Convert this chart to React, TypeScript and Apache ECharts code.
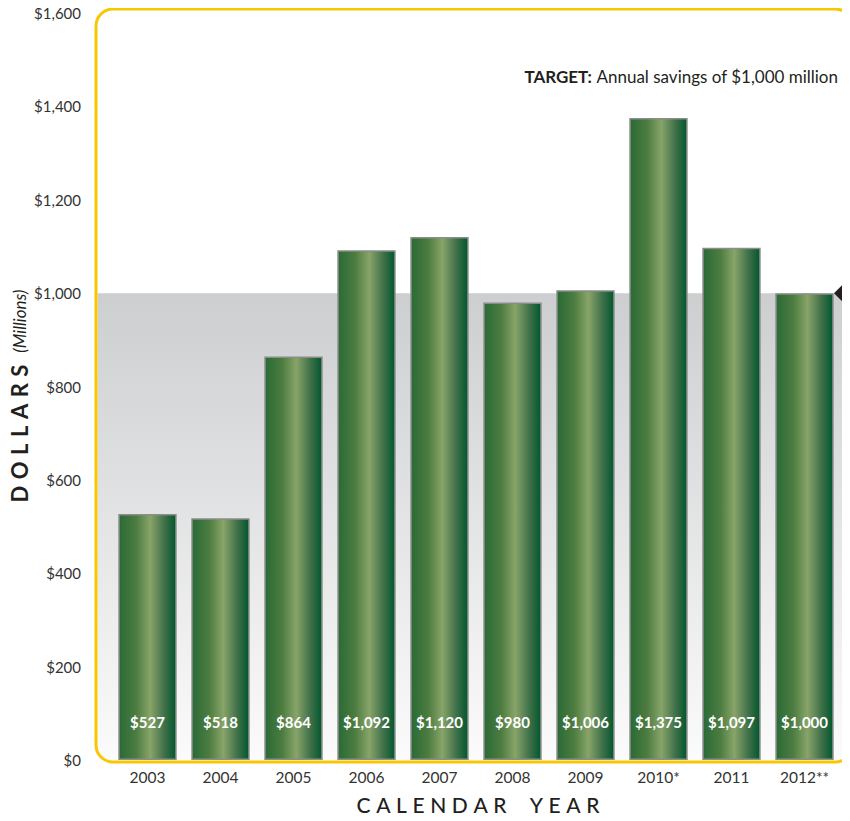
import React, { useEffect, useRef } from "react";
import * as echarts from "echarts";

const years = ["2003", "2004", "2005", "2006", "2007", "2008", "2009", "2010*", "2011", "2012**"];
const savings = [527, 518, 864, 1092, 1120, 980, 1006, 1375, 1097, 1000];
const targetValue = 1000;
const yTicks = [0, 200, 400, 600, 800, 1000, 1200, 1400, 1600];

const FONT = "Lato, 'Open Sans', sans-serif";
const INK = "#231f20";

const money = (v: number) => "$" + v.toLocaleString("en-US");

// Measure a string with the canvas API so letter-spaced titles can be laid out glyph by glyph.
function measure(text: string, font: string): number {
  const ctx = document.createElement("canvas").getContext("2d");
  if (!ctx) return text.length * 10;
  ctx.font = font;
  return ctx.measureText(text).width;
}

// A run of letter-spaced text, centred on x = 0, as text elements for a graphic group.
function trackedText(
  text: string,
  size: number,
  weight: string | number,
  tracking: number,
  wordGap: number
) {
  const font = `${weight} ${size}px Lato`;
  const chars = Array.from(text);
  const widths = chars.map((c) => (c === " " ? wordGap : measure(c, font)));
  const total = widths.reduce((a, b) => a + b, 0) + tracking * (chars.length - 1);
  let x = -total / 2;
  const out: any[] = [];
  chars.forEach((c, i) => {
    if (c !== " ") {
      out.push({
        type: "text",
        x,
        y: 0,
        style: {
          text: c,
          fill: INK,
          fontSize: size,
          fontWeight: weight,
          fontFamily: FONT,
          verticalAlign: "middle",
          align: "left",
        },
      });
    }
    x += widths[i] + tracking;
  });
  return { elements: out, width: total };
}

export default function App() {
  const ref = useRef<HTMLDivElement>(null);

  useEffect(() => {
    if (!ref.current) return;
    const chart = echarts.init(ref.current, null, { renderer: "svg" });

    const barGradient = new echarts.graphic.LinearGradient(0, 0, 1, 0, [
      { offset: 0, color: "#2a6a36" },
      { offset: 0.3, color: "#4c7c40" },
      { offset: 0.55, color: "#88a469" },
      { offset: 0.8, color: "#3f7049" },
      { offset: 1, color: "#00572d" },
    ]);

    chart.setOption({
      animation: false,
      grid: { left: 111, right: 9, top: 13, bottom: 61, containLabel: false },
      xAxis: {
        type: "category",
        data: years,
        axisLine: { show: false },
        axisTick: { show: false },
        axisLabel: { color: "#333", fontSize: 15.5, fontFamily: FONT, margin: 9 },
      },
      yAxis: {
        type: "value",
        min: yTicks[0],
        max: yTicks[yTicks.length - 1],
        interval: 200,
        splitLine: { show: false },
        axisLine: { show: false },
        axisTick: { show: false },
        axisLabel: {
          color: "#333",
          fontSize: 15,
          fontFamily: FONT,
          margin: 30,
          formatter: (v: number) => money(v),
        },
      },
      series: [
        {
          type: "bar",
          data: savings,
          barWidth: "80%",
          z: 5,
          itemStyle: { color: barGradient, borderColor: "#8a8d8a", borderWidth: 1.5 },
          label: {
            show: true,
            position: "insideBottom",
            distance: 31,
            color: "#fff",
            fontWeight: "bold",
            fontSize: 15,
            fontFamily: FONT,
            formatter: (p: any) => money(p.value),
          },
        },
      ],
    });

    const yTarget = chart.convertToPixel({ yAxisIndex: 0 }, targetValue) as number;
    const frame = { x: 96, y: 9, w: 756, h: 753 };

    const xTitle = trackedText("CALENDAR YEAR", 21, 500, 5.6, 12);
    const yTitle = trackedText("DOLLARS", 22, "bold", 6.5, 0);
    const millions = "(Millions)";
    const millionsWidth = measure(millions, "italic 17px Lato");
    const yGap = 12;
    const yTotal = yTitle.width + yGap + millionsWidth;

    chart.setOption({
      graphic: [
        {
          type: "rect",
          z: 0,
          silent: true,
          shape: { x: frame.x + 1.5, y: yTarget, width: frame.w, height: frame.y + frame.h - yTarget - 2 },
          style: {
            fill: new echarts.graphic.LinearGradient(0, 0, 0, 1, [
              { offset: 0, color: "#cdced0" },
              { offset: 1, color: "#fbfbfb" },
            ]),
          },
        },
        {
          type: "rect",
          z: 10,
          silent: true,
          shape: { x: frame.x, y: frame.y, width: frame.w, height: frame.h, r: 17 },
          style: { fill: "none", stroke: "#f9c700", lineWidth: 3 },
        },
        {
          type: "polygon",
          z: 10,
          silent: true,
          shape: {
            points: [
              [834, yTarget],
              [856, yTarget - 22],
              [856, yTarget + 22],
            ],
          },
          style: { fill: INK },
        },
        {
          type: "text",
          z: 10,
          x: 838,
          y: 76,
          style: {
            text: "{b|TARGET:} Annual savings of $1,000 million",
            align: "right",
            verticalAlign: "middle",
            fill: INK,
            fontSize: 17,
            fontFamily: FONT,
            rich: { b: { fontWeight: "bold", fontSize: 17, fontFamily: FONT, fill: INK } },
          },
        },
        {
          type: "rect",
          z: 10,
          shape: { x: 843, y: 74, width: 5, height: 5 },
          style: { fill: INK },
        },
        {
          type: "group",
          z: 10,
          x: 478,
          y: 804,
          children: xTitle.elements,
        },
        {
          // rotated a quarter turn, so local +x runs up the page
          type: "group",
          z: 10,
          x: 19,
          y: 396,
          rotation: Math.PI / 2,
          children: [
            {
              type: "group",
              x: -yTotal / 2 + yTitle.width / 2,
              y: 0,
              children: yTitle.elements,
            },
            {
              type: "text",
              x: -yTotal / 2 + yTitle.width + yGap,
              y: 0,
              style: {
                text: millions,
                fill: INK,
                fontSize: 17,
                fontStyle: "italic",
                fontFamily: FONT,
                align: "left",
                verticalAlign: "middle",
              },
            },
          ],
        },
      ],
    });

    return () => chart.dispose();
  }, []);

  return <div ref={ref} style={{ width: 850, height: 821, margin: -8 }} />;
}
